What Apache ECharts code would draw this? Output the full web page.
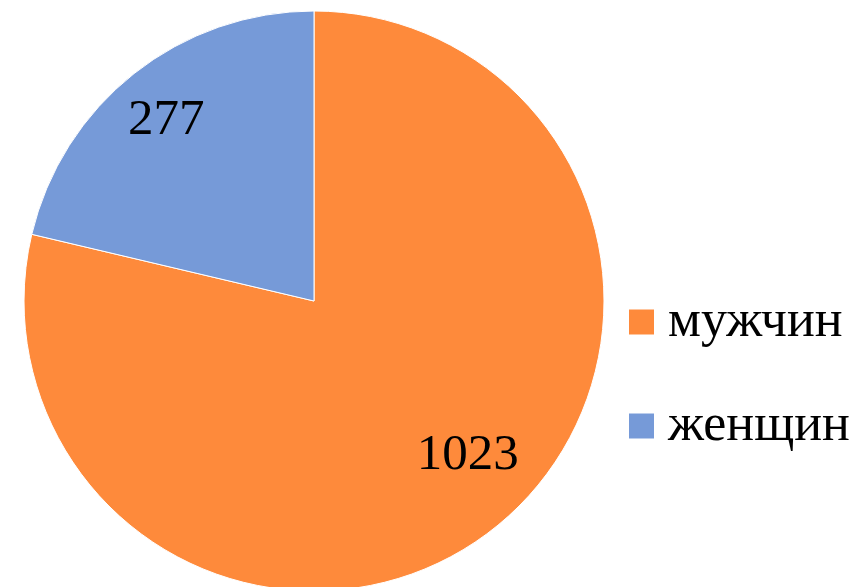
<!DOCTYPE html>
<html><head><meta charset="utf-8">
<script src="https://cdn.jsdelivr.net/npm/echarts@6/dist/echarts.min.js"></script>
<style>html,body{margin:0;padding:0;background:#fff}#c{width:861px;height:587px}</style>
</head><body><div id="c"></div>
<script>
const categories = ['мужчин', 'женщин'];
const values = [1023, 277];
const colors = ['#FE8A3B', '#769AD8'];

const chart = echarts.init(document.getElementById('c'));
const labelOffsets = [[62, 39], [-56, -64]];
chart.setOption({
  animation: false,
  legend: {
    orient: 'vertical',
    left: 627,
    top: 292,
    padding: 0,
    itemWidth: 27,
    itemHeight: 27,
    itemGap: 44,
    icon: 'rect',
    textStyle: { fontFamily: 'Liberation Serif', fontSize: 52, color: '#000', lineHeight: 60, padding: [0,0,0,8] },
    data: categories
  },
  series: [{
    type: 'pie',
    center: [314, 301],
    radius: [0, 290],
    startAngle: 90,
    clockwise: true,
    avoidLabelOverlap: false,
    itemStyle: { borderColor: '#fff', borderWidth: 1 },
    label: { show: true, position: 'inside', formatter: '{c}', fontFamily: 'Liberation Serif', fontSize: 51, color: '#000' },
    labelLayout: function (p) { const o = labelOffsets[p.dataIndex]; return { dx: o[0], dy: o[1] }; },
    emphasis: { disabled: true },
    data: categories.map((n, i) => ({ name: n, value: values[i], itemStyle: { color: colors[i] } }))
  }]
});
</script></body></html>
